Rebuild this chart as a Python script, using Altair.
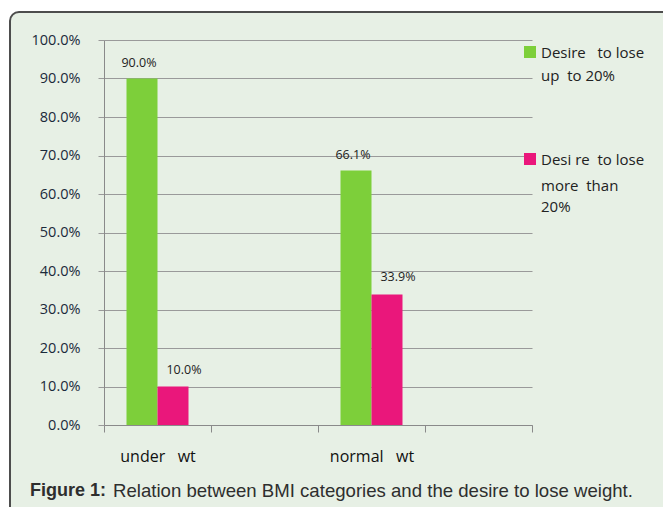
import altair as alt
import pandas as pd

# Category slots on the x axis (the two blank slots keep the wide spacing)
axis_slots = ["under wt", "slot_2", "normal wt", "slot_4"]
bar_categories = ["under wt", "normal wt"]
series = ["Desire to lose up to 20%", "Desire to lose more than 20%"]
up_to_20 = [0.900, 0.661]
more_than_20 = [0.100, 0.339]
colors = ["#7dcf3a", "#ea177b"]
y_ticks = [0.0, 0.1, 0.2, 0.3, 0.4, 0.5, 0.6, 0.7, 0.8, 0.9, 1.0]

# Legend text lines for each series
legend_lines = [["Desire\u00a0\u00a0\u00a0to lose", "up\u00a0\u00a0to 20%"],
                ["Desi re\u00a0\u00a0to lose", "more\u00a0\u00a0than", "20%"]]

caption_bold = "Figure 1:"
caption_text = "Relation between BMI categories and the desire to lose weight."

rows = []
for cat, a, b in zip(bar_categories, up_to_20, more_than_20):
    rows.append({"category": cat, "series": series[0], "value": a})
    rows.append({"category": cat, "series": series[1], "value": b})
df = pd.DataFrame(rows)

W, H = 428, 385
PAD_L, PAD_T = 104, 40
FONT = "Open Sans"
PANEL_FILL = "#e7f0e5"
one = pd.DataFrame({"k": [0]})

x_scale = alt.Scale(domain=axis_slots, paddingInner=0, paddingOuter=0)
x_enc = alt.X(
    "category:N",
    scale=x_scale,
    axis=alt.Axis(
        title=None, labelAngle=0, tickBand="extent", grid=False,
        labelExpr="indexof(datum.label, 'slot') >= 0 ? '' : replace(datum.label, ' ', '\u00a0\u00a0\u00a0')",
        labelFont=FONT, labelFontSize=16, labelColor="#111111", labelPadding=16,
        tickSize=7, tickColor="#8a8a8a", domainColor="#8a8a8a", domainWidth=1.2,
    ),
)
xoff_enc = alt.XOffset(
    "series:N",
    scale=alt.Scale(domain=series, paddingInner=0, paddingOuter=0.726),
)
y_enc = alt.Y(
    "value:Q",
    scale=alt.Scale(domain=[0, 1], nice=False),
    axis=alt.Axis(
        title=None, format=".1%", values=y_ticks, labelOverlap=False,
        labelFont=FONT, labelFontSize=14.5, labelColor="#1b2a3b", labelPadding=18,
        tickSize=6, tickColor="#9a9a9a", domainColor="#8a8a8a",
        gridColor="#9a9a9a", gridWidth=1.2,
    ),
)
color_enc = alt.Color("series:N", scale=alt.Scale(domain=series, range=colors), legend=None)

bars = alt.Chart(df).mark_bar().encode(
    x=x_enc, xOffset=xoff_enc, y=y_enc, color=color_enc
)

# Value labels above each bar
label_layers = []
for s, dx, dy in zip(series, [-3, 11], [-16, -17]):
    label_layers.append(
        alt.Chart(df).transform_filter(alt.datum.series == s).mark_text(
            font=FONT, fontSize=12.5, color="#222222", baseline="middle", dx=dx, dy=dy
        ).encode(
            x=x_enc, xOffset=xoff_enc, y=y_enc,
            text=alt.Text("value:Q", format=".1%"),
        )
    )

# White surround outside the rounded panel, then the panel border
S = 30
mask = alt.Chart(one).mark_rect(
    fillOpacity=0, stroke="#ffffff", strokeWidth=2 * S, cornerRadius=9 + S
).encode(
    x=alt.value(10 - S - PAD_L), x2=alt.value(720 + S - PAD_L),
    y=alt.value(12 - S - PAD_T), y2=alt.value(560 + S - PAD_T),
)
border = alt.Chart(one).mark_rect(
    fillOpacity=0, stroke="#4d4d4d", strokeWidth=2, cornerRadius=9
).encode(
    x=alt.value(10 - PAD_L), x2=alt.value(720 - PAD_L),
    y=alt.value(12 - PAD_T), y2=alt.value(560 - PAD_T),
)

# Legend: a square swatch and stacked text lines per series
legend_layers = []
swatch_y = [52, 159]
for i, s in enumerate(series):
    legend_layers.append(
        alt.Chart(one).mark_square(size=144, color=colors[i], opacity=1).encode(
            x=alt.value(530 - PAD_L), y=alt.value(swatch_y[i] - PAD_T)
        )
    )
line_y = [[53, 76], [160, 186, 207]]
for lines, ys in zip(legend_lines, line_y):
    for txt, yy in zip(lines, ys):
        legend_layers.append(
            alt.Chart(one).mark_text(
                text=txt, font=FONT, fontSize=15, color="#222222",
                align="left", baseline="middle"
            ).encode(x=alt.value(541 - PAD_L), y=alt.value(yy - PAD_T))
        )

cap1 = alt.Chart(one).mark_text(
    text=caption_bold, font="Liberation Sans", fontSize=18, fontWeight="bold",
    color="#2e2e2e", align="left", baseline="middle"
).encode(x=alt.value(30 - PAD_L), y=alt.value(491 - PAD_T))
cap2 = alt.Chart(one).mark_text(
    text=caption_text, font="Liberation Sans", fontSize=18.6,
    color="#2e2e2e", align="left", baseline="middle"
).encode(x=alt.value(113 - PAD_L), y=alt.value(491 - PAD_T))

chart = alt.layer(bars, *label_layers, mask, border, *legend_layers, cap1, cap2).properties(
    width=W, height=H,
    autosize=alt.AutoSizeParams(type="none"),
    padding={"left": PAD_L, "top": PAD_T, "right": 663 - PAD_L - W, "bottom": 507 - PAD_T - H},
    background=PANEL_FILL,
).configure_view(stroke=None)

chart.save("out.html", embed_options={"renderer": "svg", "actions": False})
